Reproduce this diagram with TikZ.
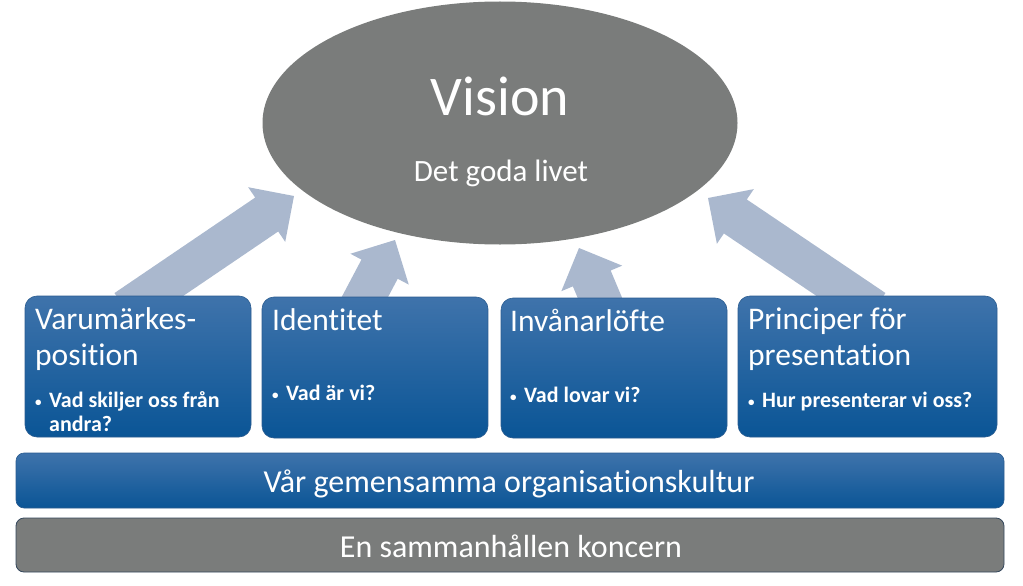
\documentclass[tikz,border=0pt]{standalone}
\usepackage{fontspec}
\setmainfont{Carlito}[Ligatures=NoCommon]
\usetikzlibrary{calc,shapes.geometric}
\definecolor{visiongray}{HTML}{7A7C7B}
\definecolor{arrowc}{HTML}{AAB8CE}
\definecolor{bluetop}{HTML}{3F73AB}
\definecolor{bluebot}{HTML}{0A5596}
\definecolor{blueedge}{HTML}{2B5C90}
\definecolor{grayedge}{HTML}{34475C}
\newcommand\myarrow[2]{%
  \coordinate (h) at ($(#2)!33pt!(#1)$);
  \fill[arrowc] ($(#1)!20.5pt!90:(#2)$) -- ($(h)!20.5pt!-90:(#1)$) -- ($(h)!33pt!-90:(#1)$) -- (#2)
     -- ($(h)!33pt!90:(#1)$) -- ($(h)!20.5pt!90:(#1)$) -- ($(#1)!20.5pt!-90:(#2)$) -- cycle;}
\newcommand\mybul{\makebox[14pt][l]{\raisebox{1pt}{\fontsize{13}{13}\selectfont\textbullet}}}
\tikzset{
  bluebox/.style={rectangle, rounded corners=12pt, top color=bluetop, bottom color=bluebot, draw=blueedge, line width=0.6pt, inner sep=0pt},
  graybar/.style={rectangle, rounded corners=8pt, fill=visiongray, draw=grayedge, line width=0.8pt, inner sep=0pt},
  title/.style={anchor=base west, inner sep=0pt, text=white, font=\fontsize{31.5}{36}\selectfont},
  bullet/.style={anchor=base west, inner sep=0pt, text=white, font=\fontsize{22}{24}\selectfont\bfseries},
  bartext/.style={anchor=base, inner sep=0pt, text=white, font=\fontsize{32}{36}\selectfont}
}
\begin{document}
\begin{tikzpicture}[x=1pt,y=-1pt]
\useasboundingbox (0,0) rectangle (1023,586);
% vision ellipse
\node[ellipse, fill=visiongray, inner sep=0pt, minimum width=475pt, minimum height=243pt] (vision) at (500,123) {};
% arrows
\coordinate (s1) at (126,310); \coordinate (t1) at (294,196);
\coordinate (s2) at (358,310); \coordinate (t2) at (395,240);
\coordinate (s3) at (605,310); \coordinate (t3) at (579,248);
\coordinate (s4) at (874,310); \coordinate (t4) at (708,198);
\myarrow{s1}{t1}
\myarrow{s2}{t2}
\myarrow{s3}{t3}
\myarrow{s4}{t4}
% boxes
\node[bluebox, minimum width=226pt, minimum height=141pt] (b1) at (138,366.5) {};
\node[bluebox, minimum width=226pt, minimum height=141pt] (b2) at (375,367.5) {};
\node[bluebox, minimum width=226pt, minimum height=140pt] (b3) at (614,368) {};
\node[bluebox, minimum width=259pt, minimum height=141pt] (b4) at (867.5,366.5) {};
% bars
\node[bluebox, rounded corners=8pt, minimum width=988pt, minimum height=55pt] (bar1) at (510,480.5) {};
\node[graybar, minimum width=988pt, minimum height=54pt] (bar2) at (510,545) {};
% texts
\node[anchor=base, inner sep=0pt, text=white, font=\fontsize{56}{60}\selectfont] (vt) at (500,115) {Vision};
\node[anchor=base, inner sep=0pt, text=white, font=\fontsize{31}{36}\selectfont] (vs) at (501,181) {Det goda livet};
\node[title] (t1a) at (35,329) {Varumärkes-};
\node[title] (t1b) at (35,365) {position};
\node[bullet] (u1a) at (35,407) {\mybul Vad skiljer oss från};
\node[bullet] (u1b) at (49,431) {andra?};
\node[title] (t2a) at (272,330) {Identitet};
\node[bullet] (u2a) at (272,400) {\mybul Vad är vi?};
\node[title] (t3a) at (510,331) {Invånarlöfte};
\node[bullet] (u3a) at (510,402) {\mybul Vad lovar vi?};
\node[title] (t4a) at (748,329) {Principer för};
\node[title] (t4b) at (748,365) {presentation};
\node[bullet] (u4a) at (748,407) {\mybul Hur presenterar vi oss?};
\node[bartext] (bt1) at (509,492) {Vår gemensamma organisationskultur};
\node[bartext] (bt2) at (511,557) {En sammanhållen koncern};
\end{tikzpicture}
\end{document}
